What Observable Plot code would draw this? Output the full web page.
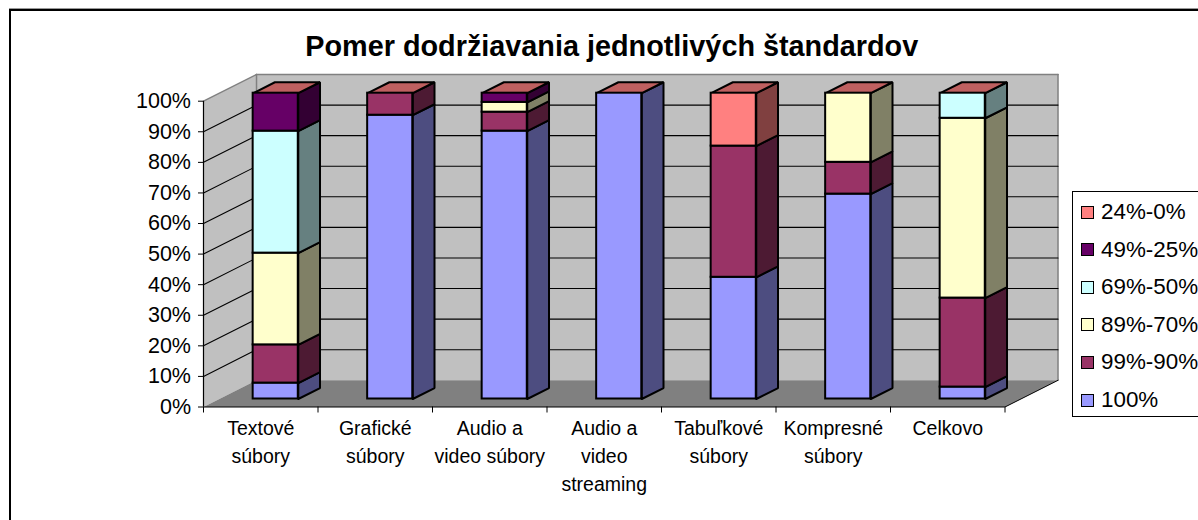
<!DOCTYPE html>
<html><head><meta charset="utf-8">
<script src="https://cdn.jsdelivr.net/npm/d3@7"></script>
<script src="https://cdn.jsdelivr.net/npm/@observablehq/plot@0.6"></script>
<style>
html,body{margin:0;padding:0;background:#fff;}
#page{position:relative;width:1198px;height:520px;overflow:hidden;font-family:"Liberation Sans",Arial,sans-serif;}
#frame{position:absolute;left:9px;top:9px;width:1400px;height:800px;border:2px solid #000;box-sizing:border-box;box-shadow:0 -1px 0 #999;}
#legend{position:absolute;left:1072px;top:191px;width:200px;height:226px;border:1px solid #000;box-sizing:border-box;background:#fff;}
.row{position:absolute;left:8px;height:24px;display:flex;align-items:center;font-size:22.4px;color:#000;white-space:nowrap;}
.sw{width:11px;height:11px;border:1.5px solid #000;margin-right:7px;flex:none;}
#chart{position:absolute;left:0;top:0;}
</style></head>
<body><div id="page"><div id="frame"></div><div id="chart"></div><div id="legend"></div></div>
<script>
const title = "Pomer dodržiavania jednotlivých štandardov";
const categories = ["Textové\nsúbory","Grafické\nsúbory","Audio a\nvideo súbory","Audio a\nvideo\nstreaming","Tabuľkové\nsúbory","Kompresné\nsúbory","Celkovo"];
const seriesNames = ["100%","99%-90%","89%-70%","69%-50%","49%-25%","24%-0%"];
const frontColors = ["#9999ff","#993366","#ffffcc","#ccffff","#660066","#ff8080"];
const sideColors  = ["#4d4d80","#4d1a33","#808066","#668080","#330033","#804040"];
const topColor = "#bf6060";
const s100   = [5.2, 92.8, 87.6, 100, 39.8, 67, 3.9];
const s99_90 = [12.5, 7.2, 6.2, 0, 42.9, 10.4, 29.1];
const s89_70 = [30, 0, 3.2, 0, 0, 22.6, 58.8];
const s69_50 = [39.9, 0, 0, 0, 0, 0, 8.2];
const s49_25 = [12.4, 0, 3, 0, 0, 0, 0];
const s24_0  = [0, 0, 0, 0, 17.3, 0, 0];
const series = [s100, s99_90, s89_70, s69_50, s49_25, s24_0];
const yTicks = [0,10,20,30,40,50,60,70,80,90,100];

// oblique projection of the 3D chart box, in scale units
const depthX = 0.463, depthY = 8.73;
const nCat = categories.length;
const P = (c, v, d) => ({x: c + d * depthX, y: v + d * depthY});
const barL = 0.2948, barR = 0.6888, d0 = 0.3, d1 = 0.71;

const poly = (id, fill, pts) => [...pts, pts[0]].map(p => ({id, fill, ...p}));
const seg = (id, a, b) => [{id, ...a}, {id, ...b}];
const walls = [
  poly("back", "#c0c0c0", [P(0,0,1), P(nCat,0,1), P(nCat,100,1), P(0,100,1)]),
  poly("left", "#c0c0c0", [P(0,0,0), P(0,0,1), P(0,100,1), P(0,100,0)]),
  poly("floor", "#808080", [P(0,0,0), P(nCat,0,0), P(nCat,0,1), P(0,0,1)])
].flat();
const wallEdges = [
  ...seg("e1",P(0,100,0),P(0,100,1)),
  ...seg("e2",P(0,100,1),P(nCat,100,1)),
  ...seg("e3",P(nCat,100,1),P(nCat,0,1)),
  ...seg("e4",P(0,0,1),P(0,100,1))
];
const floorEdge = seg("e5",P(nCat,0,1),P(nCat,0,0));
const grid = yTicks.slice(1,-1).flatMap(v =>
  [P(0,v,0),P(0,v,1),P(nCat,v,1)].map(p => ({id:"g"+v, ...p})));

const sides = [], fronts = [], tops = [];
categories.forEach((_, c) => {
  let base = 0;
  series.forEach((s, i) => {
    const v = s[c];
    if (v <= 0) return;
    const top = base + v, l = c + barL, r = c + barR;
    sides.push(...poly(`s${c}-${i}`, sideColors[i], [P(r,base,d0),P(r,base,d1),P(r,top,d1),P(r,top,d0)]));
    const a = P(l,base,d0), b = P(r,top,d0);
    fronts.push({x1:a.x, x2:b.x, y1:a.y, y2:b.y, fill:frontColors[i]});
    base = top;
  });
  tops.push(...poly(`t${c}`, topColor, [P(c+barL,100,d0),P(c+barR,100,d0),P(c+barR,100,d1),P(c+barL,100,d1)]));
});

const polygon = (data, opts={}) => Plot.line(data, {x:"x", y:"y", z:"id", fill:"fill", curve:"linear", ...opts});
const chart = Plot.plot({
  width:1198, height:520,
  marginLeft:203, marginRight:193.5, marginTop:100.7, marginBottom:113.5,
  style:{background:"transparent", fontFamily:'"Liberation Sans",Arial,sans-serif', color:"#000", overflow:"hidden"},
  x:{domain:[0,nCat], axis:null},
  y:{domain:[0,100], axis:null},
  marks:[
    polygon(walls, {stroke:"none"}),
    Plot.line(wallEdges, {x:"x", y:"y", z:"id", stroke:"#808080", strokeWidth:1.5}),
    Plot.line(floorEdge, {x:"x", y:"y", z:"id", stroke:"#000", strokeWidth:1}),
    Plot.line(grid, {x:"x", y:"y", z:"id", stroke:"#000", strokeWidth:1.1}),
    polygon(sides, {stroke:"#000", strokeWidth:2, strokeLinejoin:"miter"}),
    polygon(tops, {stroke:"#000", strokeWidth:2, strokeLinejoin:"miter"}),
    Plot.rect(fronts, {x1:"x1", x2:"x2", y1:"y1", y2:"y2", fill:"fill", stroke:"#000", strokeWidth:2}),
    Plot.ruleY([0], {stroke:"#000", strokeWidth:1.2}),
    Plot.ruleX([0], {y1:0, y2:100, stroke:"#000", strokeWidth:1.2}),
    Plot.axisY({ticks:yTicks, tickFormat:d => d + "%", tickSize:5, tickPadding:7.5, fontSize:21.5, label:null, stroke:"#000"}),
    Plot.axisX({ticks:d3.range(nCat+1), tickFormat:() => "", tickSize:6, label:null, stroke:"#000"}),
    Plot.text(categories, {x:(d,i)=>i+0.5, y:()=>0, text:d=>d, textAnchor:"middle", lineAnchor:"top", dy:8, fontSize:19.5, lineHeight:1.44, fill:"#000"}),
    Plot.text([title], {frameAnchor:"top", dx:7.5, dy:-65.7, fontSize:28.8, fontWeight:"bold", fill:"#000"})
  ]
});
document.getElementById("chart").append(chart);

const legend = document.getElementById("legend");
const order = d3.range(seriesNames.length).reverse();
order.forEach((i, k) => {
  const row = document.createElement("div");
  row.className = "row";
  row.style.top = (8 + k * 37.6) + "px";
  const sw = document.createElement("span");
  sw.className = "sw"; sw.style.background = frontColors[i];
  const t = document.createElement("span");
  t.textContent = seriesNames[i];
  row.append(sw, t);
  legend.append(row);
});
</script></body></html>
